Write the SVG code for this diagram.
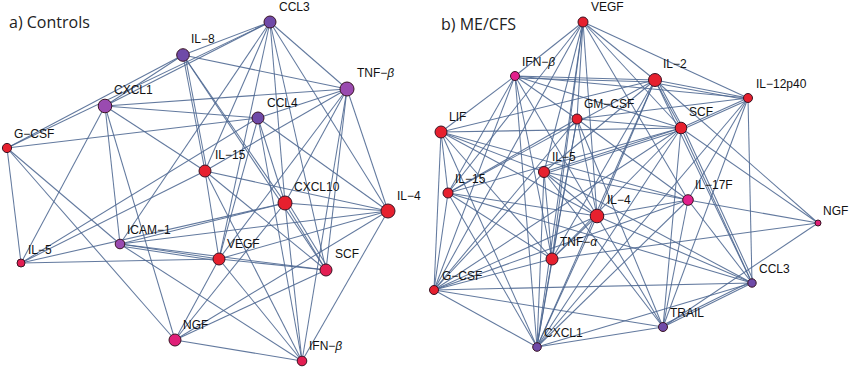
<svg xmlns="http://www.w3.org/2000/svg" width="850" height="368" viewBox="0 0 850 368">
<style>
.bg{fill:#ffffff}
.e line{stroke:#4c6791;stroke-width:1.05;stroke-opacity:.88}
circle{stroke:#3a1424;stroke-width:1}
.red{fill:#e6202e}
.pr{fill:#e31e52}
.pk{fill:#e01f78}
.mg{fill:#e2208c}
.pu{fill:#6f4aa8}
.vi{fill:#9a4bb0}
text{font-family:"Liberation Sans",Arial,sans-serif;font-size:12px;fill:#111}
.t{font-family:"Open Sans","Noto Sans",sans-serif;font-size:16px;fill:#222}
.g{font-style:italic}
</style>
<rect class="bg" x="0" y="0" width="850" height="368"/>
<text class="t" x="9" y="28">a) Controls</text>
<text class="t" x="441" y="30">b) ME/CFS</text>
<g id="connectors" class="e">
<line x1="183" y1="55" x2="270" y2="22"/>
<line x1="183" y1="55" x2="105" y2="106"/>
<line x1="183" y1="55" x2="7" y2="148"/>
<line x1="183" y1="55" x2="347" y2="89"/>
<line x1="183" y1="55" x2="205" y2="171"/>
<line x1="185" y1="55" x2="207" y2="171"/>
<line x1="183" y1="55" x2="285" y2="203"/>
<line x1="183" y1="55" x2="326" y2="270"/>
<line x1="270" y1="22" x2="105" y2="106"/>
<line x1="270" y1="22" x2="7" y2="148"/>
<line x1="270" y1="22" x2="347" y2="89"/>
<line x1="270" y1="22" x2="205" y2="171"/>
<line x1="270" y1="22" x2="120" y2="244"/>
<line x1="270" y1="22" x2="219" y2="259"/>
<line x1="270" y1="22" x2="285" y2="203"/>
<line x1="270" y1="22" x2="326" y2="270"/>
<line x1="270" y1="22" x2="388" y2="211"/>
<line x1="105" y1="106" x2="347" y2="89"/>
<line x1="105" y1="106" x2="258" y2="118"/>
<line x1="105" y1="106" x2="205" y2="171"/>
<line x1="105" y1="106" x2="21" y2="263"/>
<line x1="105" y1="106" x2="120" y2="244"/>
<line x1="105" y1="106" x2="175" y2="340"/>
<line x1="7" y1="148" x2="258" y2="118"/>
<line x1="7" y1="148" x2="21" y2="263"/>
<line x1="7" y1="148" x2="120" y2="244"/>
<line x1="7" y1="148" x2="175" y2="340"/>
<line x1="347" y1="89" x2="258" y2="118"/>
<line x1="347" y1="89" x2="205" y2="171"/>
<line x1="347" y1="89" x2="219" y2="259"/>
<line x1="347" y1="89" x2="285" y2="203"/>
<line x1="347" y1="89" x2="388" y2="211"/>
<line x1="347" y1="89" x2="326" y2="270"/>
<line x1="347" y1="89" x2="302" y2="361"/>
<line x1="258" y1="118" x2="219" y2="259"/>
<line x1="258" y1="118" x2="285" y2="203"/>
<line x1="258" y1="118" x2="388" y2="211"/>
<line x1="258" y1="118" x2="302" y2="361"/>
<line x1="258" y1="118" x2="21" y2="263"/>
<line x1="205" y1="171" x2="21" y2="263"/>
<line x1="205" y1="171" x2="219" y2="259"/>
<line x1="205" y1="171" x2="388" y2="211"/>
<line x1="205" y1="171" x2="326" y2="270"/>
<line x1="205" y1="171" x2="302" y2="361"/>
<line x1="285" y1="203" x2="388" y2="211"/>
<line x1="285" y1="203" x2="326" y2="270"/>
<line x1="287" y1="201" x2="328" y2="268"/>
<line x1="285" y1="203" x2="21" y2="263"/>
<line x1="285" y1="203" x2="120" y2="244"/>
<line x1="285" y1="203" x2="175" y2="340"/>
<line x1="285" y1="203" x2="302" y2="361"/>
<line x1="388" y1="211" x2="219" y2="259"/>
<line x1="388" y1="211" x2="120" y2="244"/>
<line x1="388" y1="211" x2="175" y2="340"/>
<line x1="388" y1="211" x2="302" y2="361"/>
<line x1="219" y1="259" x2="21" y2="263"/>
<line x1="219" y1="259" x2="120" y2="244"/>
<line x1="219" y1="261" x2="120" y2="246"/>
<line x1="219" y1="259" x2="326" y2="270"/>
<line x1="219" y1="259" x2="175" y2="340"/>
<line x1="219" y1="259" x2="302" y2="361"/>
<line x1="120" y1="244" x2="326" y2="270"/>
<line x1="120" y1="244" x2="302" y2="361"/>
<line x1="326" y1="270" x2="175" y2="340"/>
<line x1="175" y1="340" x2="302" y2="361"/>

<line x1="583" y1="22" x2="515" y2="76"/>
<line x1="583" y1="22" x2="448" y2="193"/>
<line x1="583" y1="22" x2="434" y2="290"/>
<line x1="583" y1="22" x2="544" y2="172"/>
<line x1="583" y1="22" x2="552" y2="259"/>
<line x1="583" y1="22" x2="537" y2="347"/>
<line x1="583" y1="22" x2="577" y2="119"/>
<line x1="583" y1="22" x2="597" y2="216"/>
<line x1="583" y1="22" x2="655" y2="80"/>
<line x1="583" y1="22" x2="748" y2="98"/>
<line x1="583" y1="22" x2="681" y2="128"/>
<line x1="583" y1="22" x2="688" y2="200"/>
<line x1="515" y1="76" x2="441" y2="132"/>
<line x1="515" y1="76" x2="655" y2="80"/>
<line x1="515" y1="78" x2="655" y2="82"/>
<line x1="515" y1="76" x2="748" y2="98"/>
<line x1="515" y1="76" x2="681" y2="128"/>
<line x1="515" y1="76" x2="577" y2="119"/>
<line x1="515" y1="76" x2="448" y2="193"/>
<line x1="515" y1="76" x2="434" y2="290"/>
<line x1="515" y1="76" x2="537" y2="347"/>
<line x1="515" y1="76" x2="552" y2="259"/>
<line x1="515" y1="76" x2="597" y2="216"/>
<line x1="655" y1="80" x2="441" y2="132"/>
<line x1="655" y1="80" x2="544" y2="172"/>
<line x1="655" y1="80" x2="448" y2="193"/>
<line x1="655" y1="80" x2="552" y2="259"/>
<line x1="655" y1="80" x2="537" y2="347"/>
<line x1="655" y1="80" x2="681" y2="128"/>
<line x1="657" y1="80" x2="683" y2="128"/>
<line x1="655" y1="80" x2="752" y2="283"/>
<line x1="655" y1="80" x2="818" y2="223"/>
<line x1="655" y1="80" x2="748" y2="98"/>
<line x1="655" y1="83" x2="748" y2="100"/>
<line x1="655" y1="80" x2="597" y2="216"/>
<line x1="748" y1="98" x2="681" y2="128"/>
<line x1="748" y1="100" x2="681" y2="130"/>
<line x1="748" y1="98" x2="577" y2="119"/>
<line x1="748" y1="98" x2="752" y2="283"/>
<line x1="748" y1="98" x2="663" y2="327"/>
<line x1="748" y1="98" x2="537" y2="347"/>
<line x1="748" y1="98" x2="688" y2="200"/>
<line x1="441" y1="132" x2="448" y2="193"/>
<line x1="441" y1="132" x2="434" y2="290"/>
<line x1="441" y1="132" x2="544" y2="172"/>
<line x1="441" y1="132" x2="597" y2="216"/>
<line x1="441" y1="132" x2="552" y2="259"/>
<line x1="441" y1="132" x2="537" y2="347"/>
<line x1="441" y1="132" x2="688" y2="200"/>
<line x1="441" y1="132" x2="681" y2="128"/>
<line x1="577" y1="119" x2="448" y2="193"/>
<line x1="577" y1="119" x2="434" y2="290"/>
<line x1="577" y1="119" x2="552" y2="259"/>
<line x1="577" y1="119" x2="537" y2="347"/>
<line x1="577" y1="119" x2="597" y2="216"/>
<line x1="577" y1="119" x2="663" y2="327"/>
<line x1="577" y1="119" x2="681" y2="128"/>
<line x1="577" y1="119" x2="688" y2="200"/>
<line x1="681" y1="128" x2="544" y2="172"/>
<line x1="681" y1="130" x2="544" y2="174"/>
<line x1="681" y1="128" x2="448" y2="193"/>
<line x1="681" y1="128" x2="552" y2="259"/>
<line x1="681" y1="128" x2="537" y2="347"/>
<line x1="681" y1="128" x2="752" y2="283"/>
<line x1="683" y1="127" x2="754" y2="282"/>
<line x1="681" y1="128" x2="663" y2="327"/>
<line x1="681" y1="128" x2="818" y2="223"/>
<line x1="681" y1="128" x2="434" y2="290"/>
<line x1="544" y1="172" x2="597" y2="216"/>
<line x1="544" y1="172" x2="688" y2="200"/>
<line x1="544" y1="172" x2="552" y2="259"/>
<line x1="544" y1="172" x2="537" y2="347"/>
<line x1="544" y1="172" x2="434" y2="290"/>
<line x1="544" y1="172" x2="663" y2="327"/>
<line x1="544" y1="172" x2="752" y2="283"/>
<line x1="448" y1="193" x2="434" y2="290"/>
<line x1="448" y1="193" x2="552" y2="259"/>
<line x1="448" y1="193" x2="597" y2="216"/>
<line x1="448" y1="193" x2="537" y2="347"/>
<line x1="448" y1="193" x2="752" y2="283"/>
<line x1="597" y1="216" x2="688" y2="200"/>
<line x1="597" y1="216" x2="552" y2="259"/>
<line x1="597" y1="216" x2="434" y2="290"/>
<line x1="597" y1="216" x2="537" y2="347"/>
<line x1="597" y1="216" x2="663" y2="327"/>
<line x1="597" y1="216" x2="752" y2="283"/>
<line x1="688" y1="200" x2="818" y2="223"/>
<line x1="688" y1="200" x2="663" y2="327"/>
<line x1="688" y1="200" x2="752" y2="283"/>
<line x1="688" y1="200" x2="434" y2="290"/>
<line x1="688" y1="200" x2="537" y2="347"/>
<line x1="552" y1="259" x2="434" y2="290"/>
<line x1="552" y1="259" x2="537" y2="347"/>
<line x1="552" y1="259" x2="818" y2="223"/>
<line x1="434" y1="290" x2="537" y2="347"/>
<line x1="434" y1="290" x2="663" y2="327"/>
<line x1="434" y1="290" x2="752" y2="283"/>
<line x1="537" y1="347" x2="663" y2="327"/>
<line x1="537" y1="347" x2="752" y2="283"/>
<line x1="663" y1="327" x2="752" y2="283"/>
<line x1="663" y1="325" x2="752" y2="281"/>
<line x1="663" y1="327" x2="818" y2="223"/>
</g>

<g id="a-il8"><circle class="pu" cx="183" cy="55" r="6.3"/><text x="191" y="43">IL−8</text></g>
<g id="a-ccl3"><circle class="pu" cx="270" cy="22" r="6"/><text x="279" y="11">CCL3</text></g>
<g id="a-cxcl1"><circle class="vi" cx="105" cy="106" r="6.8"/><text x="114" y="94">CXCL1</text></g>
<g id="a-tnfb"><circle class="vi" cx="347" cy="89" r="7"/><text x="357" y="77">TNF−<tspan class="g">β</tspan></text></g>
<g id="a-ccl4"><circle class="pu" cx="258" cy="118" r="6"/><text x="267" y="107">CCL4</text></g>
<g id="a-gcsf"><circle class="red" cx="7" cy="148" r="4.6"/><text x="14" y="138">G−CSF</text></g>
<g id="a-il15"><circle class="red" cx="205" cy="171" r="6"/><text x="215" y="159">IL−15</text></g>
<g id="a-cxcl10"><circle class="red" cx="285" cy="203" r="7"/><text x="294" y="191">CXCL10</text></g>
<g id="a-il4"><circle class="red" cx="388" cy="211" r="7"/><text x="397" y="200">IL−4</text></g>
<g id="a-icam1"><circle class="vi" cx="120" cy="244" r="4.8"/><text x="127" y="234">ICAM−1</text></g>
<g id="a-il5"><circle class="pr" cx="21" cy="263" r="4"/><text x="28" y="254">IL−5</text></g>
<g id="a-vegf"><circle class="red" cx="219" cy="259" r="6"/><text x="227" y="248">VEGF</text></g>
<g id="a-scf"><circle class="pr" cx="326" cy="270" r="6"/><text x="335" y="258">SCF</text></g>
<g id="a-ngf"><circle class="pk" cx="175" cy="340" r="6"/><text x="183" y="329">NGF</text></g>
<g id="a-ifnb"><circle class="pr" cx="302" cy="361" r="4.8"/><text x="309" y="350">IFN−<tspan class="g">β</tspan></text></g>

<g id="b-vegf"><circle class="red" cx="583" cy="22" r="5"/><text x="591" y="11">VEGF</text></g>
<g id="b-ifnb"><circle class="mg" cx="515" cy="76" r="4.5"/><text x="522" y="66">IFN−<tspan class="g">β</tspan></text></g>
<g id="b-il2"><circle class="red" cx="655" cy="80" r="6.5"/><text x="663" y="68">IL−2</text></g>
<g id="b-il12p40"><circle class="red" cx="748" cy="98" r="4.5"/><text x="756" y="88">IL−12p40</text></g>
<g id="b-lif"><circle class="red" cx="441" cy="132" r="6"/><text x="449" y="121">LIF</text></g>
<g id="b-gmcsf"><circle class="red" cx="577" cy="119" r="5"/><text x="584" y="108">GM−CSF</text></g>
<g id="b-scf"><circle class="red" cx="681" cy="128" r="5.8"/><text x="689" y="116">SCF</text></g>
<g id="b-il5"><circle class="red" cx="544" cy="172" r="5.5"/><text x="552" y="161">IL−5</text></g>
<g id="b-il15"><circle class="red" cx="448" cy="193" r="5"/><text x="455" y="183">IL−15</text></g>
<g id="b-il4"><circle class="red" cx="597" cy="216" r="6.8"/><text x="607" y="204">IL−4</text></g>
<g id="b-il17f"><circle class="mg" cx="688" cy="200" r="5.3"/><text x="695" y="189">IL−17F</text></g>
<g id="b-ngf"><circle class="pk" cx="818" cy="223" r="3"/><text x="823" y="215">NGF</text></g>
<g id="b-tnfa"><circle class="red" cx="552" cy="259" r="6"/><text x="560" y="246">TNF−<tspan class="g">α</tspan></text></g>
<g id="b-gcsf"><circle class="red" cx="434" cy="290" r="4.5"/><text x="442" y="280">G−CSF</text></g>
<g id="b-ccl3"><circle class="pu" cx="752" cy="283" r="4.2"/><text x="759" y="273">CCL3</text></g>
<g id="b-trail"><circle class="pu" cx="663" cy="327" r="4.5"/><text x="670" y="317">TRAIL</text></g>
<g id="b-cxcl1"><circle class="pu" cx="537" cy="347" r="4.3"/><text x="544" y="337">CXCL1</text></g>
</svg>
